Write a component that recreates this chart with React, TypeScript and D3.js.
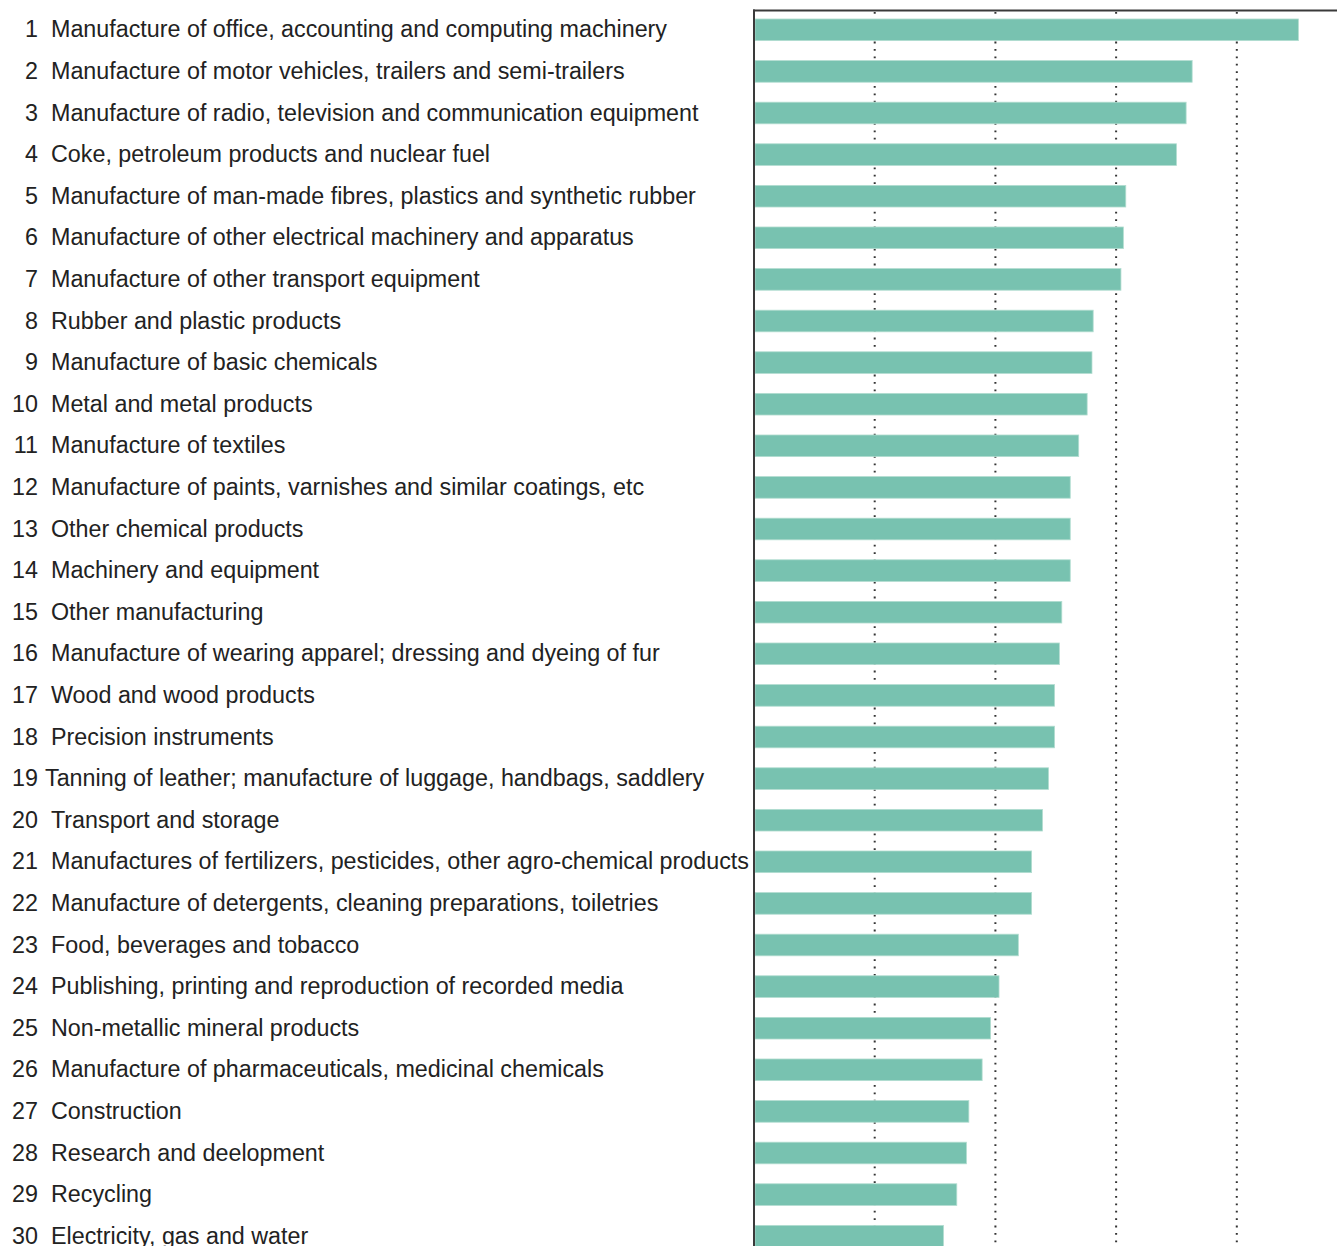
import React from "react";
import * as d3 from "d3";

const categories: string[] = [
  "Manufacture of office, accounting and computing machinery",
  "Manufacture of motor vehicles, trailers and semi-trailers",
  "Manufacture of radio, television and communication equipment",
  "Coke, petroleum products and nuclear fuel",
  "Manufacture of man-made fibres, plastics and synthetic rubber",
  "Manufacture of other electrical machinery and apparatus",
  "Manufacture of other transport equipment",
  "Rubber and plastic products",
  "Manufacture of basic chemicals",
  "Metal and metal products",
  "Manufacture of textiles",
  "Manufacture of paints, varnishes and similar coatings, etc",
  "Other chemical products",
  "Machinery and equipment",
  "Other manufacturing",
  "Manufacture of wearing apparel; dressing and dyeing of fur",
  "Wood and wood products",
  "Precision instruments",
  "Tanning of leather; manufacture of luggage, handbags, saddlery",
  "Transport and storage",
  "Manufactures of fertilizers, pesticides, other agro-chemical products",
  "Manufacture of detergents, cleaning preparations, toiletries",
  "Food, beverages and tobacco",
  "Publishing, printing and reproduction of recorded media",
  "Non-metallic mineral products",
  "Manufacture of pharmaceuticals, medicinal chemicals",
  "Construction",
  "Research and deelopment",
  "Recycling",
  "Electricity, gas and water",
];

const values: number[] = [
  4.51, 3.63, 3.58, 3.5, 3.08, 3.06, 3.04, 2.81, 2.8, 2.76, 2.69, 2.62, 2.62,
  2.62, 2.55, 2.53, 2.49, 2.49, 2.44, 2.39, 2.3, 2.3, 2.19, 2.03, 1.96, 1.89,
  1.78, 1.76, 1.68, 1.57,
];

const gridTicks: number[] = [1, 2, 3, 4];

const W = 1337;
const H = 1246;
const FONT = "'Liberation Sans', Arial, Helvetica, sans-serif";

export default function App() {
  const x = d3.scaleLinear().domain([0, 4.83]).range([754, 1337]);
  const y = d3
    .scaleBand<number>()
    .domain(d3.range(categories.length))
    .range([9, 9 + categories.length * 41.6])
    .paddingInner(0.48)
    .paddingOuter(0.24);
  const bw = y.bandwidth();

  return (
    <svg
      width={W}
      height={H}
      style={{ position: "absolute", left: 0, top: 0, background: "#fff" }}
    >
      <rect x={0} y={0} width={W} height={H} fill="#fff" />
      {/* grid lines */}
      {gridTicks.map((t) => (
        <line
          key={t}
          x1={x(t)}
          x2={x(t)}
          y1={12}
          y2={H}
          stroke="#333"
          strokeWidth={2}
          strokeDasharray="1.8 5.6"
        />
      ))}
      {/* bars */}
      {values.map((v, i) => (
        <rect
          key={i}
          x={x(0) + 1}
          y={y(i)!}
          width={x(v) - x(0) - 1}
          height={bw}
          fill="#78c2b0"
          stroke="#b2ddd0"
          strokeWidth={0.8}
        />
      ))}
      {/* frame */}
      <line x1={753} x2={W} y1={10.5} y2={10.5} stroke="#3a3a3a" strokeWidth={2} />
      <line x1={754} x2={754} y1={9.5} y2={H} stroke="#3a3a3a" strokeWidth={2} />
      {/* labels */}
      <g fontFamily={FONT} fontSize={23.3} fill="#222">
        {categories.map((c, i) => {
          const cy = y(i)! + bw / 2 + 7.5;
          return (
            <g key={i}>
              <text x={38} y={cy} textAnchor="end">
                {i + 1}
              </text>
              <text x={i === 18 ? 45 : 51} y={cy}>
                {c}
              </text>
            </g>
          );
        })}
      </g>
    </svg>
  );
}
